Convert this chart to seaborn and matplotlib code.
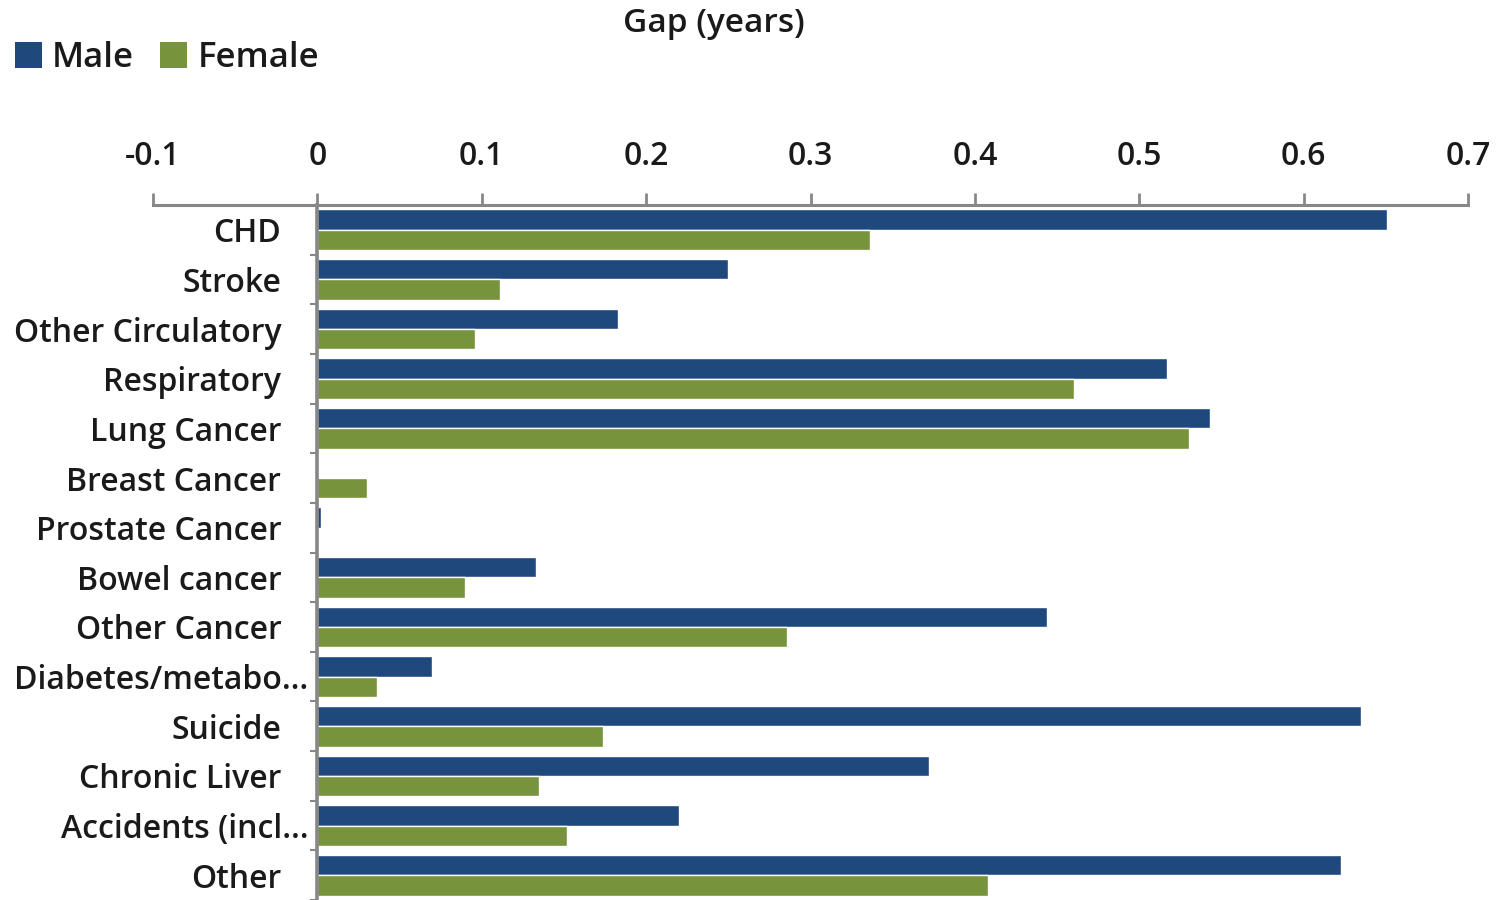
import matplotlib
matplotlib.use("Agg")
import matplotlib.pyplot as plt
import matplotlib.transforms as mtransforms
from matplotlib.patches import Patch
from matplotlib.ticker import FixedLocator
import numpy as np
import pandas as pd
import seaborn as sns

# Causes of death and life-expectancy gap (years) by sex
causes = [
    "CHD", "Stroke", "Other Circulatory", "Respiratory", "Lung Cancer",
    "Breast Cancer", "Prostate Cancer", "Bowel cancer", "Other Cancer",
    "Diabetes/metabo\u2026", "Suicide", "Chronic Liver", "Accidents (incl\u2026",
    "Other",
]
male = [0.651, 0.250, 0.183, 0.517, 0.543, 0.0, 0.002, 0.133, 0.444,
        0.070, 0.635, 0.372, 0.220, 0.623]
female = [0.336, 0.111, 0.096, 0.460, 0.530, 0.030, 0.0, 0.090, 0.286,
          0.036, 0.174, 0.135, 0.152, 0.408]
sexes = ["Male", "Female"]
x_ticks = [-0.1, 0, 0.1, 0.2, 0.3, 0.4, 0.5, 0.6, 0.7]
x_tick_labels = ["-0.1", "0", "0.1", "0.2", "0.3", "0.4", "0.5", "0.6", "0.7"]
colors = {"Male": "#1F497D", "Female": "#77933C"}

df = pd.DataFrame({
    "Cause": causes * 2,
    "Gap": male + female,
    "Sex": ["Male"] * len(causes) + ["Female"] * len(causes),
})

sns.set_theme(style="white")
plt.rcParams["font.family"] = ["Open Sans", "DejaVu Sans"]
plt.rcParams["font.weight"] = "semibold"
TEXT = "#1a1a1a"
AXIS_GREY = "#878787"

fig = plt.figure(figsize=(15.03, 9.0), dpi=100)
ax = fig.add_axes([153 / 1503, 0.0, 1315 / 1503, 695 / 900])

sns.barplot(data=df, y="Cause", x="Gap", hue="Sex", hue_order=sexes,
            order=causes, orient="h", palette=colors, saturation=1,
            width=0.82, legend=False, ax=ax)

ax.set_xlim(-0.1, 0.7)
ax.set_ylim(len(causes) - 0.5, -0.5)

# Value axis along the top
ax.xaxis.tick_top()
ax.xaxis.set_label_position("top")
ax.set_xticks(x_ticks)
ax.set_xticklabels(x_tick_labels)
ax.tick_params(axis="x", which="major", direction="out", length=9, width=2,
               color=AXIS_GREY, pad=14, labelsize=23, labelcolor=TEXT)
ax.set_xlabel("")
ax.set_ylabel("")

# Category axis sits at zero
for s in ["right", "bottom"]:
    ax.spines[s].set_visible(False)
ax.spines["top"].set_color(AXIS_GREY)
ax.spines["top"].set_linewidth(2.2)
ax.spines["left"].set_position(("data", 0))
ax.spines["left"].set_color(AXIS_GREY)
ax.spines["left"].set_linewidth(2.6)

ax.yaxis.set_minor_locator(FixedLocator(np.arange(len(causes)) + 0.5))
ax.tick_params(axis="y", which="major", length=0, pad=26, labelsize=23,
               labelcolor=TEXT)
ax.tick_params(axis="y", which="minor", direction="out", length=5, width=1.5,
               color=AXIS_GREY, left=True)
ax.grid(False)

# truncated labels run closer to the axis
shift = mtransforms.ScaledTranslation(27 / 100, 0, fig.dpi_scale_trans)
for lab in ax.get_yticklabels():
    if lab.get_text().endswith("\u2026"):
        lab.set_transform(lab.get_transform() + shift)

fig.text(714 / 1503, 1 - 23 / 900, "Gap (years)", ha="center", va="center",
         fontsize=24, color=TEXT)

handles = [Patch(facecolor=colors[s], edgecolor="none", label=s) for s in sexes]
fig.legend(handles=handles, loc="upper left", bbox_to_anchor=(-0.011, 0.989),
           ncol=2, frameon=False, fontsize=25, handlelength=0.78,
           handleheight=0.78, handletextpad=0.3, columnspacing=0.75,
           labelcolor=TEXT)

fig.savefig("out.png", dpi=100)
